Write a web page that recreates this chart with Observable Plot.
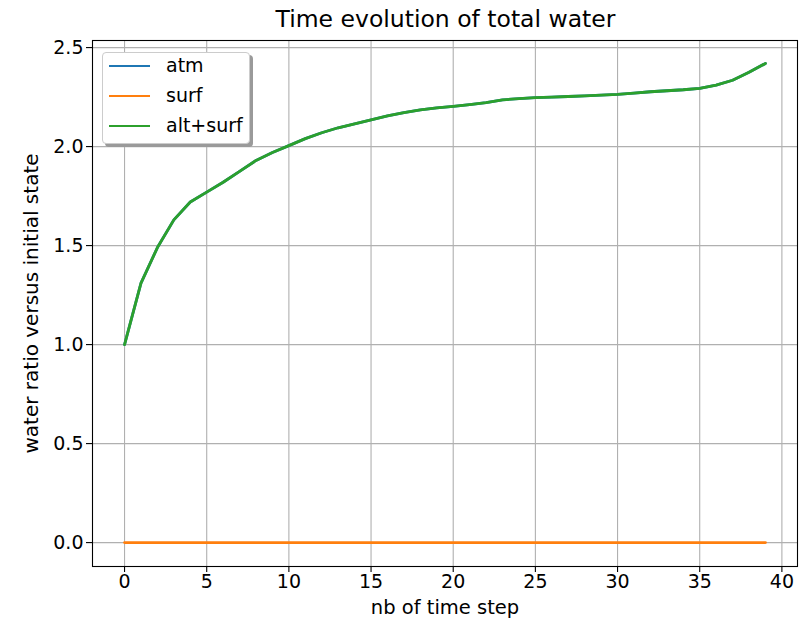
<!DOCTYPE html>
<html>
<head>
<meta charset="utf-8">
<script src="https://cdn.jsdelivr.net/npm/d3@7"></script>
<script src="https://cdn.jsdelivr.net/npm/@observablehq/plot@0.6"></script>
<style>
  html, body { margin: 0; padding: 0; background: #fff; }
  #wrap { position: relative; width: 803px; height: 627px; font-family: "DejaVu Sans", sans-serif; color: #000; }
  #title { position: absolute; left: 0; top: 0; height: 38px; width: 803px; box-sizing: border-box; padding-left: 88px;
           text-align: center; font-size: 23.5px; line-height: 38px; }
  #chart { position: absolute; left: 0; top: 18px; }
  #legend { position: absolute; left: 102px; top: 52px; width: 148px; height: 92px; box-sizing: border-box;
            background: #fff; border: 1px solid #cccccc; border-radius: 4px; box-shadow: 3px 3px 0 #9a9a9a; }
  .item { position: absolute; left: 0; height: 20px; font-size: 19px; line-height: 20px; }
  .swatch { position: absolute; left: 6px; top: 9px; width: 41px; height: 0; border-top: 2.8px solid; }
  .lbl { position: absolute; left: 63px; top: -1px; white-space: nowrap; }
</style>
</head>
<body>
<div id="wrap">
  <div id="chart"></div>
  <div id="title">Time evolution of total water</div>
  <div id="legend"></div>
</div>
<script>
// time step index
const steps = d3.range(0, 40);
// series, ratio of water versus initial state
const atm = [1.0, 1.31, 1.49, 1.63, 1.72, 1.77, 1.82, 1.875, 1.93, 1.97,
             2.005, 2.04, 2.07, 2.095, 2.115, 2.135, 2.155, 2.172, 2.185, 2.195,
             2.203, 2.212, 2.222, 2.236, 2.242, 2.247, 2.25, 2.253, 2.256, 2.26,
             2.264, 2.27, 2.277, 2.282, 2.287, 2.294, 2.31, 2.335, 2.375, 2.42];
const surf = [0, 0, 0, 0, 0, 0, 0, 0, 0, 0,
              0, 0, 0, 0, 0, 0, 0, 0, 0, 0,
              0, 0, 0, 0, 0, 0, 0, 0, 0, 0,
              0, 0, 0, 0, 0, 0, 0, 0, 0, 0];
const total = [1.0, 1.31, 1.49, 1.63, 1.72, 1.77, 1.82, 1.875, 1.93, 1.97,
               2.005, 2.04, 2.07, 2.095, 2.115, 2.135, 2.155, 2.172, 2.185, 2.195,
               2.203, 2.212, 2.222, 2.236, 2.242, 2.247, 2.25, 2.253, 2.256, 2.26,
               2.264, 2.27, 2.277, 2.282, 2.287, 2.294, 2.31, 2.335, 2.375, 2.42];
const seriesNames = ["atm", "surf", "alt+surf"];
const seriesColors = ["#1f77b4", "#ff7f0e", "#2ca02c"];
const xTicks = [0, 5, 10, 15, 20, 25, 30, 35, 40];
const yTicks = [0.0, 0.5, 1.0, 1.5, 2.0, 2.5];

const seriesValues = [atm, surf, total];
const rows = seriesNames.flatMap((name, k) =>
  steps.map((s, i) => ({series: name, step: s, value: seriesValues[k][i]})));

const chart = Plot.plot({
  width: 803,
  height: 609,
  marginLeft: 92,
  marginRight: 6,
  marginTop: 22,
  marginBottom: 61,
  style: {fontFamily: "DejaVu Sans, sans-serif", fontSize: "19px", background: "transparent", color: "#000"},
  x: {domain: [-1.95, 40.95], ticks: xTicks, tickFormat: d => String(d), label: null},
  y: {domain: [-0.12075, 2.53575], ticks: yTicks, tickFormat: d => d.toFixed(1), label: null},
  color: {domain: seriesNames, range: seriesColors},
  marks: [
    Plot.gridX(xTicks, {stroke: "#b0b0b0", strokeOpacity: 1, strokeWidth: 1.1}),
    Plot.gridY(yTicks, {stroke: "#b0b0b0", strokeOpacity: 1, strokeWidth: 1.1}),
    Plot.axisX(xTicks, {tickSize: 6, tickPadding: 2, tickFormat: d => String(d), label: null, strokeWidth: 1.1}),
    Plot.axisY(yTicks, {tickSize: 6, tickPadding: 3, tickFormat: d => d.toFixed(1), label: null, strokeWidth: 1.1}),
    Plot.line(rows, {x: "step", y: "value", z: "series", stroke: "series", strokeWidth: 2.8}),
    Plot.frame({stroke: "#000", strokeWidth: 1.1}),
    Plot.text(["nb of time step"], {frameAnchor: "bottom", dy: 47, fontSize: 19.5}),
    Plot.text(["water ratio versus initial state"], {frameAnchor: "left", textAnchor: "middle", dx: -61, rotate: -90, fontSize: 20})
  ]
});
document.getElementById("chart").appendChild(chart);

// legend entries
const legend = d3.select("#legend");
seriesNames.forEach((name, k) => {
  const item = legend.append("div").attr("class", "item").style("top", (3 + k * 30) + "px").style("width", "146px");
  item.append("div").attr("class", "swatch").style("border-color", seriesColors[k]);
  item.append("div").attr("class", "lbl").text(name);
});
</script>
</body>
</html>
